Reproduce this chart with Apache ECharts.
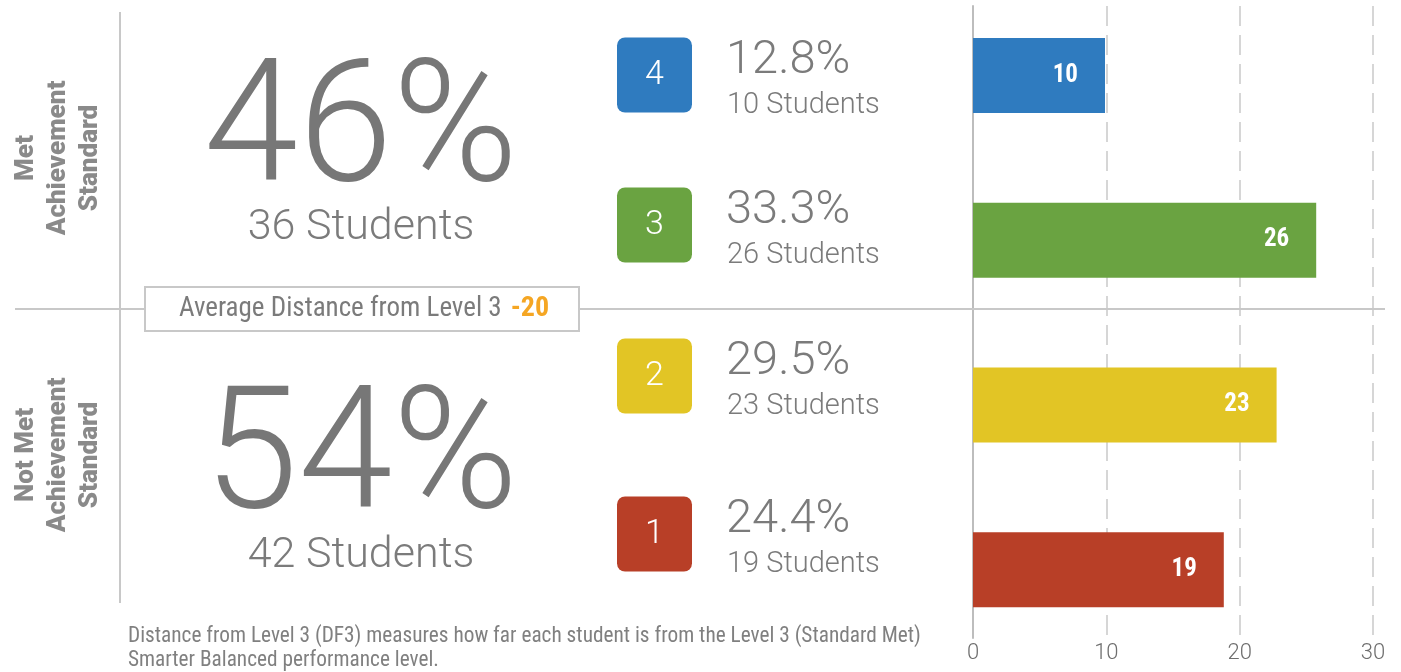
<!DOCTYPE html>
<html>
<head>
<meta charset="utf-8">
<script src="https://cdn.jsdelivr.net/npm/echarts@6/dist/echarts.min.js"></script>
<style>
html,body{margin:0;padding:0;background:#fff;}
#chart{width:1401px;height:672px;}
</style>
</head>
<body>
<div id="chart"></div>
<script>
// ---- data ----
const levels = ['4', '3', '2', '1'];
const students = [10, 26, 23, 19];
const pctLabels = ['12.8%', '33.3%', '29.5%', '24.4%'];
const groupNames = ['Met\nAchievement\nStandard', 'Not Met\nAchievement\nStandard'];
const groupPct = ['46%', '54%'];
const groupStudents = [36, 42];
const avgDistance = -20;
const xTicks = [0, 10, 20, 30];
const footnoteLines = [
  'Distance from Level 3 (DF3) measures how far each student is from the Level 3 (Standard Met)',
  'Smarter Balanced performance level.'
];

// ---- style ----
const levelColors = ['#2f7bbf', '#6aa341', '#e2c525', '#b83f27'];
const gray = '#7b7b7b';
const lineGray = '#c8c8c8';
const ROBOTO = "Roboto, 'Noto Sans', sans-serif";
const COND = "'Roboto Condensed', 'Liberation Sans Narrow', 'DejaVu Sans Condensed', sans-serif";

const chart = echarts.init(document.getElementById('chart'));

const graphics = [];
// left vertical line
graphics.push({type:'line', shape:{x1:120,y1:12,x2:120,y2:603}, style:{stroke:lineGray,lineWidth:2}, z:10});
// horizontal divider
graphics.push({type:'line', shape:{x1:15,y1:309,x2:1385,y2:309}, style:{stroke:lineGray,lineWidth:2}, z:10});

// rotated group labels
const groupCY = [158, 455];
const pctCY = [137, 464];
const stuCY = [228, 556];
groupNames.forEach((g, i) => {
  graphics.push({type:'text', x:58, y:groupCY[i], rotation:Math.PI/2, z:20,
    style:{text:g, font:"900 26px Roboto, 'Noto Sans', sans-serif", fill:'#8a8a8a', align:'center', verticalAlign:'middle', lineHeight:32}});
  graphics.push({type:'text', x:361, y:pctCY[i], z:20,
    style:{text:groupPct[i], font:"300 170px " + ROBOTO, fill:'#777777', align:'center', verticalAlign:'middle'}});
  graphics.push({type:'text', x:361, y:stuCY[i], z:20,
    style:{text:groupStudents[i] + ' Students', font:"300 43px " + ROBOTO, fill:gray, align:'center', verticalAlign:'middle'}});
});

// average distance box
graphics.push({type:'rect', shape:{x:145,y:287,width:434,height:44}, style:{fill:'#fff',stroke:lineGray,lineWidth:2}, z:30});
graphics.push({type:'text', x:364, y:309, z:31,
  style:{text:'Average Distance from Level 3{o|' + avgDistance + '}', font:"27px " + COND, fill:gray, align:'center', verticalAlign:'middle',
    rich:{o:{font:"bold 28px " + COND, fill:'#f5a623', padding:[0,0,0,9]}}}});

// badges + level text
const badgeCY = [75, 225, 376, 534];
levels.forEach((lv, i) => {
  const cy = badgeCY[i];
  graphics.push({type:'rect', shape:{x:617,y:cy-37.5,width:75,height:75,r:8}, style:{fill:levelColors[i]}, z:20});
  graphics.push({type:'text', x:654.5, y:cy, z:21,
    style:{text:lv, font:"300 34px " + ROBOTO, fill:'#fff', align:'center', verticalAlign:'middle'}});
  graphics.push({type:'text', x:726, y:cy-14, z:21,
    style:{text:pctLabels[i], font:"300 47px " + ROBOTO, fill:gray, align:'left', verticalAlign:'middle'}});
  graphics.push({type:'text', x:727, y:cy+31, z:21,
    style:{text:students[i] + ' Students', font:"300 29px " + ROBOTO, fill:gray, align:'left', verticalAlign:'middle'}});
});

// footnote
footnoteLines.forEach((t, i) => {
  graphics.push({type:'text', x:128, y:637 + i*24, z:20,
    style:{text:t, font:"21.3px " + COND, fill:'#808080', align:'left', verticalAlign:'middle'}});
});

const option = {
  backgroundColor: '#fff',
  animation: false,
  grid: [
    {left:973, width:400, top:6, bottom:34, outerBoundsMode:'none'},
    {left:973, width:396, top:-7, height:659, outerBoundsMode:'none'}
  ],
  xAxis: [
    {gridIndex:0, type:'value', min:xTicks[0], max:xTicks[xTicks.length-1], interval:xTicks[1]-xTicks[0],
     axisLine:{show:false}, axisTick:{show:false},
     axisLabel:{color:'#6e6e6e', fontFamily:ROBOTO, fontWeight:300, fontSize:22, margin:4},
     splitLine:{show:true, lineStyle:{color:'#d6d6d6', width:2, type:[20,9]}}},
    {gridIndex:1, type:'value', min:xTicks[0], max:xTicks[xTicks.length-1],
     show:false, splitLine:{show:false}}
  ],
  yAxis: [
    {gridIndex:0, type:'value', axisLabel:{show:false}, axisTick:{show:false}, splitLine:{show:false},
     axisLine:{show:true, lineStyle:{color:'#bdbdbd', width:2}}},
    {gridIndex:1, type:'category', data:levels, inverse:true, show:false}
  ],
  graphic: graphics,
  series: [{
    type:'bar', xAxisIndex:1, yAxisIndex:1, barWidth:75, z:5,
    data: students.map((v, i) => ({value:v, itemStyle:{color:levelColors[i]}})),
    label:{show:true, position:'insideRight', distance:27, color:'#fff', fontFamily:COND, fontWeight:'bold', fontSize:25}
  }]
};
chart.setOption(option);
</script>
</body>
</html>
